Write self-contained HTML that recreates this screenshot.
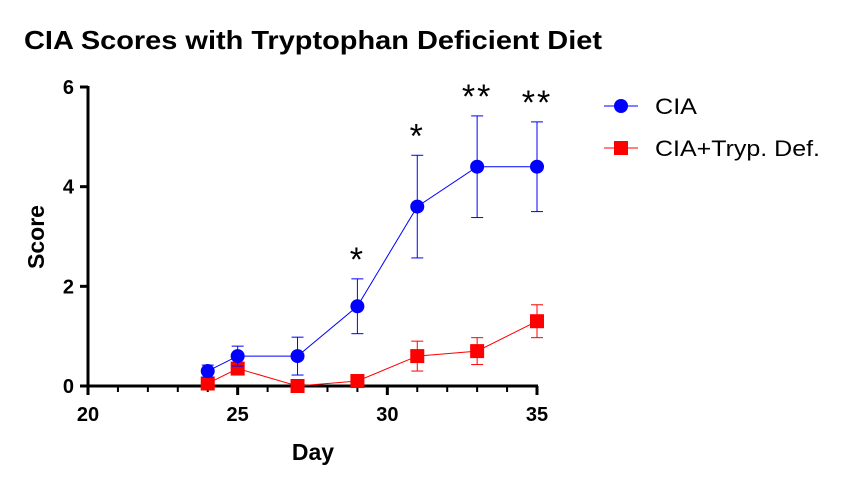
<!DOCTYPE html>
<html><head><meta charset="utf-8"><style>
body{margin:0;background:#fff;}
svg text{font-family:"Liberation Sans",Arial,sans-serif;}
</style></head><body>
<svg id="chart" width="844" height="488" xmlns="http://www.w3.org/2000/svg">
<text x="24" y="49" font-size="26" font-weight="bold" textLength="578" lengthAdjust="spacingAndGlyphs">CIA Scores with Tryptophan Deficient Diet</text>
<g id="plot"></g>
<g>
<g>
<line x1="604" y1="106" x2="638" y2="106" stroke="#0000ff" stroke-width="1"/>
<circle cx="621" cy="106" r="7" fill="#0000ff"/>
<text x="655" y="114" font-size="22" textLength="42" lengthAdjust="spacingAndGlyphs">CIA</text></g>
<g>
<line x1="604" y1="148" x2="638" y2="148" stroke="#ff0000" stroke-width="1"/>
<rect x="614" y="141" width="14" height="14" fill="#ff0000"/>
<text x="655" y="156" font-size="22" textLength="165" lengthAdjust="spacingAndGlyphs">CIA+Tryp. Def.</text></g>
</g>
</svg>
<script>
const days=[24,25,27,29,31,33,35];
const ciaMean=[0.3,0.6,0.6,1.6,3.6,4.4,4.4];
const ciaErr=[0.12,0.2,0.38,0.55,1.03,1.02,0.9];
const trypMean=[0.05,0.35,0,0.1,0.6,0.7,1.3];
const trypErr=[0.05,0.1,0,0,0.3,0.27,0.33];
const sigLabels=["","","","*","*","**","**"];
const xTicks=[20,25,30,35];
const yTicks=[0,2,4,6];
const NS="http://www.w3.org/2000/svg";
const x=d=>88+(d-20)*(449/15);
const y=v=>386-v*(299/6);
const g=document.getElementById('plot');
function mk(t,a,p){const e=document.createElementNS(NS,t);for(const k in a)e.setAttribute(k,a[k]);(p||g).appendChild(e);return e;}
let ax=mk('g',{});


mk('line',{x1:88,y1:y(6)-1,x2:88,y2:387,stroke:'#000','stroke-width':3},ax);
yTicks.forEach(t=>{mk('line',{x1:80,y1:y(t),x2:88,y2:y(t),stroke:'#000','stroke-width':3},ax);
const tx=mk('text',{x:74,y:y(t)+7,'font-size':20,'font-weight':'bold','text-anchor':'end'},ax);tx.textContent=t;});
let xa=mk('g',{});


mk('line',{x1:87,y1:386,x2:x(35)+1,y2:386,stroke:'#000','stroke-width':3},xa);
for(let d=20;d<=35;d++){const maj=xTicks.includes(d);
mk('line',{x1:x(d),y1:386,x2:x(d),y2:maj?395:392,stroke:'#000','stroke-width':maj?3:2},xa);}
xTicks.forEach(t=>{const tx=mk('text',{x:x(t),y:421,'font-size':20,'font-weight':'bold','text-anchor':'middle'},xa);tx.textContent=t;});
let xt=mk('text',{x:313,y:460,'font-size':23,'font-weight':'bold','text-anchor':'middle'});xt.textContent='Day';


let yt=mk('text',{x:0,y:0,'font-size':23,'font-weight':'bold','text-anchor':'middle',transform:'translate(44,237) rotate(-90)'});yt.textContent='Score';


function series(means,errs,col,shape,name){
const sg=mk('g',{});


mk('polyline',{points:days.map((d,i)=>x(d)+','+y(means[i])).join(' '),fill:'none',stroke:col,'stroke-width':1},sg);
days.forEach((d,i)=>{const cx=x(d),t=y(means[i]+errs[i]),b=y(Math.max(0,means[i]-errs[i]));
if(errs[i]>0){mk('line',{x1:cx,y1:t,x2:cx,y2:b,stroke:col,'stroke-width':1},sg);
mk('line',{x1:cx-6,y1:t,x2:cx+6,y2:t,stroke:col,'stroke-width':1},sg);
mk('line',{x1:cx-6,y1:b,x2:cx+6,y2:b,stroke:col,'stroke-width':1},sg);}
let m;
if(shape==='c')m=mk('circle',{cx:cx,cy:y(means[i]),r:7,fill:col},sg);
else m=mk('rect',{x:cx-7,y:y(means[i])-7,width:14,height:14,fill:col},sg);


});}
series(trypMean,trypErr,'#ff0000','s','series-tryp-def');
series(ciaMean,ciaErr,'#0000ff','c','series-cia');
days.forEach((d,i)=>{if(!sigLabels[i])return;
const t=mk('text',{x:x(d),y:y(ciaMean[i]+ciaErr[i])-8,'font-size':34,'text-anchor':'middle','letter-spacing':'2'});t.textContent=sigLabels[i];

});
</script>
</body></html>
